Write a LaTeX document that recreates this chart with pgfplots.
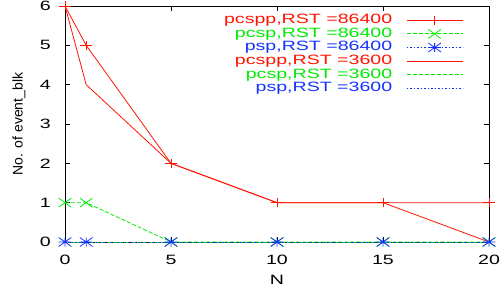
\documentclass[border=0pt]{standalone}
\usepackage{fontspec}
\setmainfont{Liberation Sans}[FakeStretch=1.45]
\newfontfamily\ylfont{Liberation Sans}
\usepackage{pgfplots}
\pgfplotsset{compat=1.18}
\definecolor{gpred}{RGB}{255,20,0}
\definecolor{gpgreen}{RGB}{0,235,0}
\definecolor{gpblue}{RGB}{20,50,255}
\pgfdeclareplotmark{gpplus}{%
  \pgfpathmoveto{\pgfqpoint{-1.4\pgfplotmarksize}{0pt}}\pgfpathlineto{\pgfqpoint{1.4\pgfplotmarksize}{0pt}}%
  \pgfpathmoveto{\pgfqpoint{0pt}{-\pgfplotmarksize}}\pgfpathlineto{\pgfqpoint{0pt}{\pgfplotmarksize}}%
  \pgfusepathqstroke}
\pgfdeclareplotmark{gpx}{%
  \pgfpathmoveto{\pgfqpoint{-1.4\pgfplotmarksize}{-\pgfplotmarksize}}\pgfpathlineto{\pgfqpoint{1.4\pgfplotmarksize}{\pgfplotmarksize}}%
  \pgfpathmoveto{\pgfqpoint{-1.4\pgfplotmarksize}{\pgfplotmarksize}}\pgfpathlineto{\pgfqpoint{1.4\pgfplotmarksize}{-\pgfplotmarksize}}%
  \pgfusepathqstroke}
\pgfdeclareplotmark{gpstar}{%
  \pgfpathmoveto{\pgfqpoint{-1.4\pgfplotmarksize}{0pt}}\pgfpathlineto{\pgfqpoint{1.4\pgfplotmarksize}{0pt}}%
  \pgfpathmoveto{\pgfqpoint{0pt}{-\pgfplotmarksize}}\pgfpathlineto{\pgfqpoint{0pt}{\pgfplotmarksize}}%
  \pgfpathmoveto{\pgfqpoint{-1.4\pgfplotmarksize}{-\pgfplotmarksize}}\pgfpathlineto{\pgfqpoint{1.4\pgfplotmarksize}{\pgfplotmarksize}}%
  \pgfpathmoveto{\pgfqpoint{-1.4\pgfplotmarksize}{\pgfplotmarksize}}\pgfpathlineto{\pgfqpoint{1.4\pgfplotmarksize}{-\pgfplotmarksize}}%
  \pgfusepathqstroke}
\begin{document}
\begin{tikzpicture}[font=\fontsize{13.5bp}{15bp}\selectfont]
\path[use as bounding box] (-65bp,-52bp) rectangle (435bp,242bp);
\begin{axis}[
  scale only axis, width=424bp, height=236bp,
  xmin=0, xmax=20, ymin=0, ymax=6,
  xtick={0,5,10,15,20}, ytick={0,1,2,3,4,5,6},
  /pgf/number format/assume math mode=true,
  tick align=inside, major tick length=5bp,
  tick style={black, line width=0.7bp},
  axis line style={black, line width=0.8bp},
  xticklabel style={anchor=center, inner sep=0pt, yshift=-18bp},
  yticklabel style={anchor=east, inner sep=0pt, xshift=-14bp},
  xlabel={N},
  xlabel style={at={(axis description cs:0.5,0)}, anchor=center, yshift=-38bp},
  ylabel={\ylfont\fontsize{14bp}{16bp}\selectfont No. of event\_blk},
  ylabel style={at={(axis description cs:-0.1085,0.5)}, anchor=center},
  clip=false,
  legend plot pos=right,
  legend style={at={(rel axis cs:0.9387,0.966)}, anchor=north east, draw=none, fill=none,
    inner sep=0pt, outer sep=0pt, row sep=1.1bp, column sep=14bp,
    nodes={inner sep=0pt, text height=9.7bp, text depth=2.8bp},
    cells={anchor=east}},
  legend image code/.code={\draw[mark repeat=2,mark phase=2,#1] plot coordinates {(0bp,0bp) (28bp,0bp) (56bp,0bp)};},
  every axis plot/.append style={line width=0.8bp},
]
\addplot[gpred, solid, mark=gpplus, mark size=4.5bp, mark options={solid}] coordinates {(0,6)(1,5)(5,2)(10,1)(15,1)(20,1)};
\addlegendentry{\color{gpred}pcspp,RST =86400}
\addplot[gpgreen, dash pattern=on 4bp off 2bp, mark=gpx, mark size=4.5bp, mark options={solid}] coordinates {(0,1)(1,1)(5,0)(10,0)(15,0)(20,0)};
\addlegendentry{\color{gpgreen}pcsp,RST =86400}
\addplot[gpblue, dash pattern=on 1.5bp off 2bp, mark=gpstar, mark size=4.5bp, mark options={solid}] coordinates {(0,0)(1,0)(5,0)(10,0)(15,0)(20,0)};
\addlegendentry{\color{gpblue}psp,RST =86400}
\addplot[gpred, solid, no marks] coordinates {(0,6)(1,4)(5,2)(10,1)(15,1)(20,0)};
\addlegendentry{\color{gpred}pcspp,RST =3600}
\addplot[gpgreen, dash pattern=on 4bp off 2bp, no marks] coordinates {(0,0)(1,0)(5,0)(10,0)(15,0)(20,0)};
\addlegendentry{\color{gpgreen}pcsp,RST =3600}
\addplot[gpblue, dash pattern=on 1.5bp off 2bp, no marks] coordinates {(0,0)(1,0)(5,0)(10,0)(15,0)(20,0)};
\addlegendentry{\color{gpblue}psp,RST =3600}
\end{axis}
\end{tikzpicture}
\end{document}
